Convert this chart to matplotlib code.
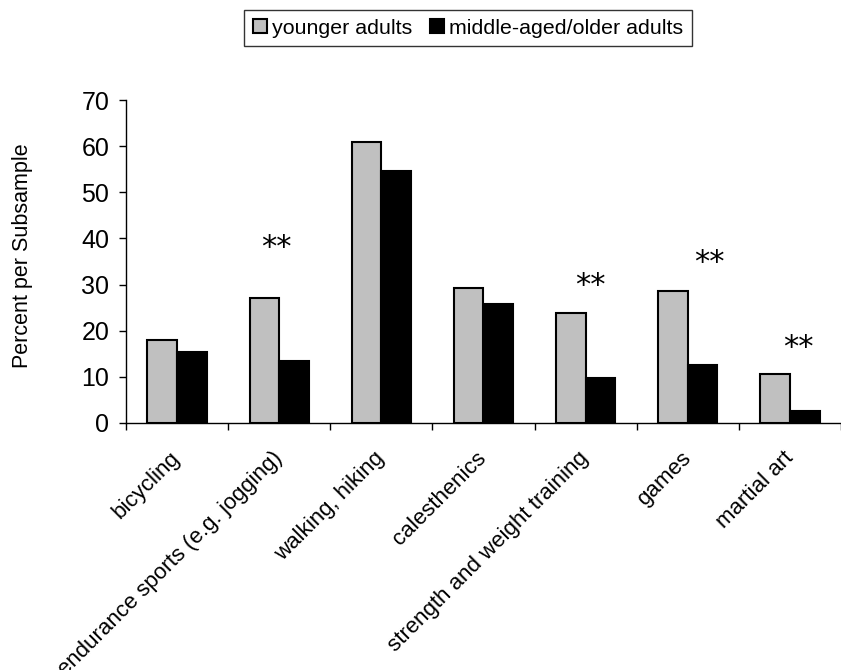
import matplotlib
matplotlib.use("Agg")
import matplotlib.pyplot as plt
import numpy as np

plt.rcParams['font.family'] = ['Liberation Sans', 'DejaVu Sans']

# Activity categories and percentages per subsample
categories = ['bicycling', 'endurance sports (e.g. jogging)', 'walking, hiking',
              'calesthenics', 'strength and weight training', 'games', 'martial art']
younger = [18.0, 27.0, 61.0, 29.3, 23.8, 28.6, 10.6]
older = [15.3, 13.5, 54.6, 25.7, 9.8, 12.6, 2.5]

# significance markers: position (in category units) and height of the "**"
sig_x = [0.97, 4.05, 5.21, 6.08]
sig_y = [38.9, 30.6, 35.7, 17.3]

fig = plt.figure(figsize=(8.41, 6.70), dpi=100)
ax = fig.add_axes([126 / 841, 247 / 670, 1 - 126 / 841, 323 / 670])

x = np.arange(len(categories))
w = 0.29
ax.bar(x - w / 2, younger, w, color='#c0c0c0', edgecolor='black', linewidth=1.5,
       label='younger adults')
ax.bar(x + w / 2, older, w, color='black', edgecolor='black', linewidth=1.5,
       label='middle-aged/older adults')

# asterisks (glyph centred on the given height)
for xi, yi in zip(sig_x, sig_y):
    ax.annotate('**', (xi, yi), xytext=(0, -9), textcoords='offset points',
                ha='center', va='baseline', fontsize=22, family='DejaVu Sans')

ax.set_xlim(-0.5, 6.5 - 8 / 103.3)
ax.set_ylim(0, 70)
ax.set_yticks(range(0, 71, 10))
ax.tick_params(axis='y', labelsize=18, length=5, width=1, direction='out', pad=7)

# tick marks between categories, labels at centres
ax.set_xticks(np.arange(-0.5, 7, 1.0))
ax.set_xticklabels([])
ax.tick_params(axis='x', length=5, width=1, direction='out')
ax.set_xticks(x, minor=True)
ax.set_xticklabels(categories, minor=True, rotation=45, ha='right', va='center',
                   rotation_mode='anchor', fontsize=16)
ax.tick_params(axis='x', which='minor', length=0, pad=23)

for s in ['top', 'right']:
    ax.spines[s].set_visible(False)
ax.spines['left'].set_linewidth(1)
ax.spines['bottom'].set_linewidth(1)

fig.text(23 / 841, 1 - 256 / 670, 'Percent per Subsample', rotation=90,
         ha='center', va='center', fontsize=15.5)

fig.legend(loc='center', bbox_to_anchor=(468 / 841, 1 - 28 / 670), ncol=2,
           fontsize=15.4, frameon=True, fancybox=False, edgecolor='#333333',
           handlelength=0.67, handleheight=0.67, handletextpad=0.25,
           columnspacing=0.8, borderpad=0.4, framealpha=1)

fig.savefig('out.png', dpi=100)
